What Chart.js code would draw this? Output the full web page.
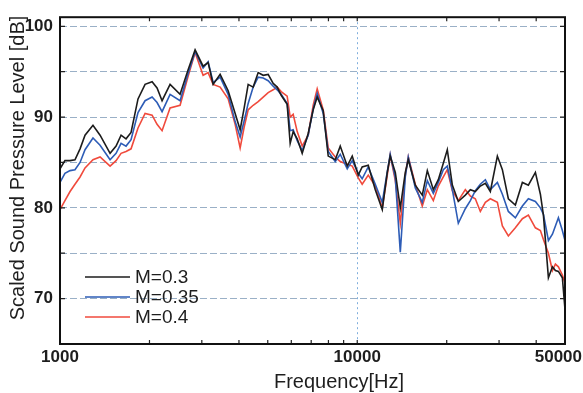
<!DOCTYPE html>
<html>
<head>
<meta charset="utf-8">
<script src="https://cdn.jsdelivr.net/npm/chart.js@4/dist/chart.umd.min.js"></script>
<style>
  html, body { margin: 0; padding: 0; background: #fff; }
</style>
</head>
<body>
<canvas id="spl-chart" width="583" height="393"></canvas>
<script>
// Scaled SPL spectra for three Mach numbers

// frequency [Hz]
const freqs = [1000, 1039, 1081, 1123, 1168, 1214, 1291, 1364, 1474, 1544, 1605, 1668, 1734, 1830, 1933, 2041, 2121, 2205, 2346, 2535, 2698, 2848,
  3030, 3150, 3275, 3457, 3679, 3884, 4037, 4165, 4296, 4466, 4642, 4826, 5016, 5214, 5379, 5548, 5811, 5948, 6088, 6281, 6529, 6839, 7110, 7333, 7683, 7987, 8434, 8766, 9254, 9620,
  10080, 10390, 10890, 11500, 12140, 12620, 12910, 13430, 13960, 14510, 14850, 15680, 16550, 17210, 18030, 18740, 19480, 20090, 20890, 21880,
  23100, 24020, 24960, 25950, 26980, 28040, 29610, 30780, 32240, 34040, 35940, 37650, 39750, 41320, 42300, 43970, 45360, 46420, 47510, 48990, 50000];

// SPL [dB], M=0.3
const splM030 = [84.3, 85.2, 85.2, 85.3, 86.5, 88.0, 89.1, 88.0, 86.0, 86.8, 88.0, 87.6, 88.3, 92.0, 93.6, 93.9, 93.2, 91.8, 93.6, 92.5, 95.2, 97.4,
  95.6, 96.0, 93.6, 94.7, 92.9, 90.4, 88.6, 91.0, 93.6, 93.3, 94.9, 94.6, 94.7, 93.7, 93.3, 92.4, 91.4, 87.1, 88.4, 87.6, 86.0, 88.2, 90.8, 92.2, 90.7, 85.7, 85.3, 86.8, 84.6, 85.7,
  83.6, 84.5, 84.7, 82.0, 79.8, 83.9, 85.7, 83.9, 80.0, 83.9, 85.3, 82.5, 81.4, 84.1, 82.0, 83.1, 84.9, 86.4, 82.5, 80.7,
  81.4, 82.0, 81.8, 82.4, 82.7, 81.8, 85.7, 84.2, 81.0, 80.3, 82.8, 82.5, 83.9, 81.5, 79.2, 72.3, 73.5, 73.1, 73.0, 72.3, 68.8];

// SPL [dB], M=0.35
const splM035 = [82.8, 83.8, 84.1, 84.2, 85.0, 86.4, 87.7, 86.9, 85.3, 86.0, 87.1, 86.8, 87.5, 90.5, 91.8, 92.2, 91.6, 90.6, 92.5, 91.8, 94.8, 97.2,
  95.4, 96.1, 93.8, 94.4, 92.5, 89.5, 87.8, 89.6, 91.5, 93.3, 94.4, 94.3, 94.0, 93.4, 93.0, 92.5, 91.5, 88.5, 88.6, 87.4, 86.3, 88.0, 90.9, 92.6, 90.4, 86.2, 85.1, 85.9, 84.3, 85.2,
  83.8, 83.2, 84.5, 82.6, 80.6, 84.0, 85.9, 83.3, 75.1, 83.4, 85.6, 82.2, 80.6, 83.0, 81.6, 82.8, 84.2, 84.6, 82.0, 78.3,
  79.9, 80.8, 81.9, 82.6, 83.1, 82.0, 82.8, 81.5, 79.6, 78.9, 80.2, 81.0, 80.7, 80.0, 79.3, 76.4, 77.1, 78.0, 78.9, 77.5, 76.4];

// SPL [dB], M=0.4
const splM040 = [79.8, 80.8, 81.8, 82.6, 83.4, 84.4, 85.3, 85.6, 84.6, 85.2, 86.0, 86.2, 86.5, 88.8, 90.4, 90.2, 89.2, 88.5, 91.0, 91.3, 94.5, 97.1,
  94.6, 94.9, 93.6, 93.3, 92.0, 89.2, 86.6, 88.9, 90.8, 91.3, 91.7, 92.2, 92.7, 93.0, 93.3, 92.8, 92.3, 90.0, 90.3, 88.4, 86.8, 88.0, 91.3, 93.1, 90.8, 86.6, 85.6, 85.1, 84.8, 84.6,
  83.3, 82.6, 83.6, 82.4, 80.0, 83.6, 85.8, 83.0, 78.3, 83.6, 85.6, 82.6, 80.2, 82.0, 80.8, 82.4, 83.4, 84.2, 81.9, 80.8,
  82.0, 81.3, 81.0, 79.6, 80.6, 81.0, 80.6, 78.0, 76.9, 77.8, 78.8, 79.2, 77.8, 77.5, 76.5, 75.0, 73.1, 73.8, 73.5, 72.6, 71.7];

const seriesLabels = ['M=0.3', 'M=0.35', 'M=0.4'];
const seriesColors = ['#1c1c1c', '#2d5cb6', '#f04a3c'];
const xTickLabels = [1000, 10000, 50000];
const yTickLabels = [70, 80, 90, 100];

const FONT = "'Liberation Sans', Arial, sans-serif";
const TEXT = '#1e1e1e';

function toPoints(values) {
  return freqs.map((f, i) => ({ x: f, y: values[i] }));
}

// frame, inward ticks, x labels, axis titles, legend
const decorPlugin = {
  id: 'decor',
  afterDraw(chart) {
    const ctx = chart.ctx;
    const area = chart.chartArea;
    const xs = chart.scales.x;
    const ys = chart.scales.y;
    ctx.save();

    // inward tick marks
    ctx.strokeStyle = '#222';
    ctx.lineWidth = 1.2;
    ctx.beginPath();
    xs.ticks.forEach(t => {
      const px = xs.getPixelForValue(t.value);
      ctx.moveTo(px, area.bottom); ctx.lineTo(px, area.bottom - 4);
      ctx.moveTo(px, area.top); ctx.lineTo(px, area.top + 4);
    });
    ys.ticks.forEach(t => {
      const py = ys.getPixelForValue(t.value);
      ctx.moveTo(area.left, py); ctx.lineTo(area.left + 5, py);
      ctx.moveTo(area.right, py); ctx.lineTo(area.right - 5, py);
    });
    ctx.stroke();

    // frame
    ctx.strokeStyle = '#111';
    ctx.lineWidth = 2;
    ctx.strokeRect(area.left, area.top, area.right - area.left, area.bottom - area.top);

    // x tick labels (kept inside the canvas on the right)
    ctx.fillStyle = TEXT;
    ctx.font = 'bold 17px ' + FONT;
    ctx.textAlign = 'center';
    ctx.textBaseline = 'middle';
    xTickLabels.forEach(v => {
      const label = String(v);
      const w = ctx.measureText(label).width;
      const px = Math.min(xs.getPixelForValue(v), chart.width - w / 2 - 1);
      ctx.fillText(label, px, area.bottom + 13);
    });

    // axis titles
    ctx.font = '20px ' + FONT;
    ctx.fillText('Frequency[Hz]', 339, 382);
    ctx.save();
    ctx.translate(18, 168);
    ctx.rotate(-Math.PI / 2);
    ctx.fillText('Scaled Sound Pressure Level [dB]', 0, 0);
    ctx.restore();

    // legend inside the plot, lower left
    ctx.font = '19px ' + FONT;
    ctx.textAlign = 'left';
    seriesLabels.forEach((label, i) => {
      const y = 277 + i * 20;
      ctx.strokeStyle = seriesColors[i];
      ctx.lineWidth = 1.6;
      ctx.beginPath();
      ctx.moveTo(85, y); ctx.lineTo(130, y);
      ctx.stroke();
      ctx.fillStyle = TEXT;
      ctx.fillText(label, 135, y + 1);
    });

    ctx.restore();
  }
};

const ctx = document.getElementById('spl-chart').getContext('2d');
new Chart(ctx, {
  type: 'line',
  data: {
    datasets: [splM030, splM035, splM040].map((vals, i) => ({
      label: seriesLabels[i],
      data: toPoints(vals),
      borderColor: seriesColors[i],
      borderWidth: 1.6,
      pointRadius: 0,
      tension: 0,
      fill: false
    }))
  },
  options: {
    responsive: false,
    animation: false,
    layout: { padding: { top: 12, right: 18, left: 0, bottom: 0 } },
    plugins: {
      legend: { display: false },
      tooltip: { enabled: false }
    },
    scales: {
      x: {
        type: 'logarithmic',
        min: 1000,
        max: 50000,
        afterBuildTicks(scale) {
          const ticks = [];
          for (let d = 1000; d <= 10000; d *= 10) {
            for (let k = 1; k <= 9; k++) {
              const v = k * d;
              if (v >= 1000 && v <= 50000) ticks.push({ value: v });
            }
          }
          scale.ticks = ticks;
        },
        afterFit(scale) {
          scale.height = 49;
          scale.paddingLeft = 0;
          scale.paddingRight = 0;
        },
        ticks: { display: false, autoSkip: false },
        grid: {
          drawTicks: false,
          color: c => (c.tick && c.tick.value === 10000) ? 'rgba(105,160,215,0.85)' : 'transparent',
          lineWidth: 1
        },
        border: { display: false, dash: [2, 3] }
      },
      y: {
        min: 65,
        max: 101,
        afterBuildTicks(scale) {
          // grid every 5 dB up to 100, labels every 10
          const ticks = [];
          for (let v = 65; v <= 100; v += 5) ticks.push({ value: v });
          scale.ticks = ticks;
        },
        afterFit(scale) {
          scale.width = 60;
        },
        ticks: {
          padding: 7,
          autoSkip: false,
          color: TEXT,
          font: { family: FONT, size: 17, weight: 'bold' },
          callback: v => yTickLabels.includes(v) ? String(v) : ''
        },
        grid: {
          drawTicks: false,
          color: c => (c.tick && c.tick.value > 65) ? 'rgba(120,150,180,0.75)' : 'transparent',
          lineWidth: 1
        },
        border: { display: false, dash: [7, 3] }
      }
    }
  },
  plugins: [decorPlugin]
});
</script>
</body>
</html>
